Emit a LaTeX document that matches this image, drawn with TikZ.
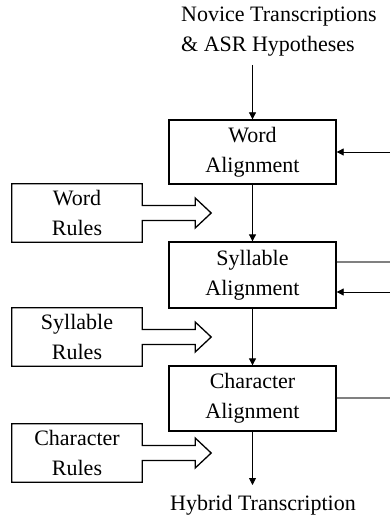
\documentclass[tikz,border=0pt]{standalone}
\usepackage{fontspec}
\setmainfont{Liberation Serif}
\usetikzlibrary{arrows.meta,calc}
\begin{document}
\begin{tikzpicture}[x=1pt,y=-1pt,
  every node/.style={font=\fontsize{22}{30}\selectfont, inner sep=0pt},
  alignbox/.style={draw, line width=1.3pt, minimum width=167pt, minimum height=64pt, align=center},
  rulebox/.style={minimum width=130pt, minimum height=58pt, align=center},
  outline/.style={line width=1.3pt, line join=miter},
  flow/.style={line width=0.8pt, -{Triangle[length=7pt,width=7pt]}},
  fb/.style={line width=1.1pt, draw=black!50}
]
\useasboundingbox (0,0) rectangle (390,521);
\node[align=left, anchor=west] (in) at (181,32) {Novice Transcriptions\\\& ASR Hypotheses};
\node[alignbox] (wa) at (252.5,152) {Word\\Alignment};
\node[alignbox, minimum height=66pt] (sa) at (252.5,275) {Syllable\\Alignment};
\node[alignbox, minimum height=65pt] (ca) at (252.5,398.5) {Character\\Alignment};
\node[rulebox] (wr) at (77,213) {Word\\Rules};
\node[rulebox] (sr) at (77,337) {Syllable\\Rules};
\node[rulebox] (cr) at (77,453) {Character\\Rules};
\node (out) at (263,505) {Hybrid Transcription};
\coordinate (top) at (252.5,65);
\coordinate (bot) at (252.5,485);
\coordinate (r1) at (391,152);
\coordinate (r2) at (391,262);
\coordinate (r3) at (391,292);
\coordinate (r4) at (391,398);
\draw[flow] (top) -- (wa.north);
\draw[flow] (wa.south) -- (sa.north);
\draw[flow] (sa.south) -- (ca.north);
\draw[flow] (ca.south) -- (bot);
\draw[flow] (r1) -- (wa.east |- r1);
\draw[flow] (r3) -- (sa.east |- r3);
\draw[fb] (sa.east |- r2) -- (r2);
\draw[fb] (ca.east |- r4) -- (r4);
\foreach \n in {wr,sr,cr}
  \draw[outline] (\n.north west) -- (\n.north east) -- ($(\n.east)+(0,-7.5)$)
    -- ($(\n.east)+(53,-7.5)$) -- ($(\n.east)+(53,-15)$) -- ($(\n.east)+(69,0)$)
    -- ($(\n.east)+(53,15)$) -- ($(\n.east)+(53,7.5)$) -- ($(\n.east)+(0,7.5)$)
    -- (\n.south east) -- (\n.south west) -- cycle;
\end{tikzpicture}
\end{document}
